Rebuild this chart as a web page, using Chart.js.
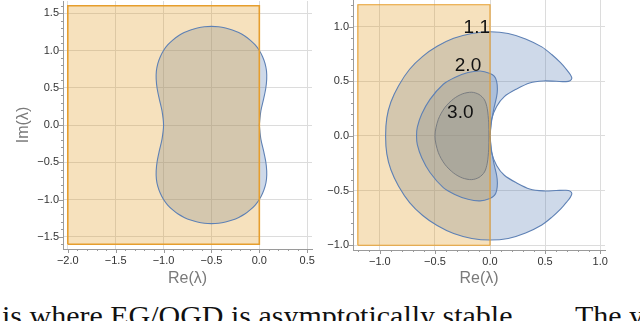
<!DOCTYPE html>
<html>
<head>
<meta charset="utf-8">
<script src="https://cdn.jsdelivr.net/npm/chart.js@4.4.1/dist/chart.umd.min.js"></script>
<style>
  html, body { margin: 0; padding: 0; background: #fff; width: 640px; height: 321px; overflow: hidden; }
  #wrap { position: relative; width: 640px; height: 321px; overflow: hidden; }
  .cv { position: absolute; top: 0; }
  #cap1, #cap2 { position: absolute; top: 303px; font-family: "Liberation Serif", "DejaVu Serif", serif; font-size: 27px; line-height: 27px; color: #111; white-space: nowrap; transform-origin: 0 0; }
</style>
</head>
<body>
<div id="wrap">
  <canvas id="left" class="cv" width="320" height="295" style="left:0px"></canvas>
  <canvas id="right" class="cv" width="320" height="295" style="left:320px"></canvas>
  <div id="cap1">is where EG/OGD is asymptotically stable.</div>
  <div id="cap2">The yellow</div>
</div>
<script>
// ---------------- data ----------------
// Left panel: tick values
const leftXTicks = [-2.0, -1.5, -1.0, -0.5, 0.0, 0.5];
const leftYTicks = [-1.5, -1.0, -0.5, 0.0, 0.5, 1.0, 1.5];
// Left panel: yellow (orange) half-plane region corners [Re, Im]
const leftStableRect = [[-2.0, -1.6], [0.0, -1.6], [0.0, 1.6], [-2.0, 1.6], [-2.0, -1.6]];
// Left panel: blue (EG) region boundary [Re, Im]
const egBoundary = [
  [0.000, 0.000], [0.016, 0.189], [0.045, 0.351], [0.067, 0.490], [0.077, 0.613], [0.075, 0.724],
  [0.060, 0.825], [0.034, 0.917], [0.000, 1.000], [-0.043, 1.074], [-0.096, 1.139], [-0.152, 1.195],
  [-0.215, 1.240], [-0.282, 1.276], [-0.353, 1.302], [-0.426, 1.318], [-0.500, 1.323],
  [-0.574, 1.318], [-0.647, 1.302], [-0.718, 1.276], [-0.785, 1.240], [-0.848, 1.195], [-0.904, 1.139],
  [-0.957, 1.074], [-1.000, 1.000], [-1.034, 0.917], [-1.060, 0.825], [-1.075, 0.724], [-1.077, 0.613],
  [-1.067, 0.490], [-1.045, 0.351], [-1.016, 0.189], [-1.000, 0.000],
  [-1.016, -0.189], [-1.045, -0.351], [-1.067, -0.490], [-1.077, -0.613], [-1.075, -0.724],
  [-1.060, -0.825], [-1.034, -0.917], [-1.000, -1.000], [-0.957, -1.074], [-0.904, -1.139],
  [-0.848, -1.195], [-0.785, -1.240], [-0.718, -1.276], [-0.647, -1.302], [-0.574, -1.318],
  [-0.500, -1.323], [-0.426, -1.318], [-0.353, -1.302], [-0.282, -1.276], [-0.215, -1.240],
  [-0.152, -1.195], [-0.096, -1.139], [-0.043, -1.074], [0.000, -1.000], [0.034, -0.917],
  [0.060, -0.825], [0.075, -0.724], [0.077, -0.613], [0.067, -0.490], [0.045, -0.351],
  [0.016, -0.189], [0.000, 0.000]
];

// Right panel: tick values
const rightXTicks = [-1.0, -0.5, 0.0, 0.5, 1.0];
const rightYTicks = [-1.0, -0.5, 0.0, 0.5, 1.0];
const rightStableRect = [[-1.2, -1.0], [0.0, -1.0], [0.0, 1.2], [-1.2, 1.2], [-1.2, -1.0]];
// Right panel: OGD regions for the three parameter values
const ogd11 = [
  [0.000, 0.000], [0.015, 0.153], [0.060, 0.270], [0.130, 0.360], [0.242, 0.430], [0.360, 0.485],
  [0.485, 0.503], [0.600, 0.500], [0.690, 0.497], [0.727, 0.505], [0.743, 0.527], [0.730, 0.560],
  [0.700, 0.600], [0.640, 0.670], [0.560, 0.745], [0.470, 0.815], [0.323, 0.888], [0.165, 0.938],
  [0.000, 0.953], [-0.165, 0.938], [-0.330, 0.893], [-0.480, 0.820], [-0.611, 0.728], [-0.730, 0.610],
  [-0.830, 0.460], [-0.900, 0.310], [-0.937, 0.165], [-0.948, 0.000],
  [-0.937, -0.165], [-0.900, -0.310], [-0.830, -0.460], [-0.730, -0.610], [-0.611, -0.728],
  [-0.480, -0.820], [-0.330, -0.893], [-0.165, -0.938], [0.000, -0.953], [0.165, -0.938],
  [0.323, -0.888], [0.470, -0.815], [0.560, -0.745], [0.640, -0.670], [0.700, -0.600],
  [0.730, -0.560], [0.743, -0.527], [0.727, -0.505], [0.690, -0.497], [0.600, -0.500],
  [0.485, -0.503], [0.360, -0.485], [0.242, -0.430], [0.130, -0.360], [0.060, -0.270],
  [0.015, -0.153], [0.000, 0.000]
];
const ogd20 = [
  [0.000, 0.000], [0.012, 0.120], [0.035, 0.250], [0.060, 0.360], [0.067, 0.430], [0.060, 0.500],
  [0.040, 0.545], [0.000, 0.572], [-0.090, 0.594], [-0.200, 0.580], [-0.320, 0.535], [-0.424, 0.473],
  [-0.545, 0.335], [-0.620, 0.200], [-0.660, 0.080], [-0.667, 0.000],
  [-0.660, -0.080], [-0.620, -0.200], [-0.545, -0.335], [-0.424, -0.473], [-0.320, -0.535],
  [-0.200, -0.580], [-0.090, -0.594], [0.000, -0.572], [0.040, -0.545], [0.060, -0.500],
  [0.067, -0.430], [0.060, -0.360], [0.035, -0.250], [0.012, -0.120], [0.000, 0.000]
];
const ogd30 = [
  [-0.010, 0.000], [-0.012, 0.120], [-0.025, 0.250], [-0.050, 0.330], [-0.100, 0.380], [-0.167, 0.400],
  [-0.250, 0.385], [-0.330, 0.340], [-0.410, 0.260], [-0.470, 0.150], [-0.500, 0.000],
  [-0.470, -0.150], [-0.410, -0.260], [-0.330, -0.340], [-0.250, -0.385], [-0.167, -0.400],
  [-0.100, -0.380], [-0.050, -0.330], [-0.025, -0.250], [-0.012, -0.120], [-0.010, 0.000]
];
const contourLabels = ['1.1', '2.0', '3.0'];
const contourLabelRe = [-0.12, -0.20, -0.27];
const contourLabelIm = [0.99, 0.64, 0.21];

// ---------------- styling helpers ----------------
const BLUE = 'rgb(94,129,181)';
const BLUE_FILL = 'rgba(94,129,181,0.3)';
const ORANGE = 'rgb(230,158,45)';
const ORANGE_FILL = 'rgba(225,156,36,0.3)';
const GRID = '#dcdcdc';
const AXIS = '#9a9a9a';
const TICKFONT = { family: 'Liberation Sans, Arial, sans-serif', size: 11 };
const TITLEFONT = { family: 'Liberation Sans, Arial, sans-serif', size: 16 };

const fmt = v => (v < 0 ? '\u2212' : '') + Math.abs(v).toFixed(1);
const pts = arr => arr.map(p => ({ x: p[0], y: p[1] }));

function fillSet(arr, color, tension) {
  return { data: pts(arr), showLine: true, fill: 'shape', backgroundColor: color, borderWidth: 0,
           borderColor: 'rgba(0,0,0,0)', pointRadius: 0, tension: tension };
}
function lineSet(arr, color, width, tension) {
  return { data: pts(arr), showLine: true, fill: false, borderColor: color, borderWidth: width,
           pointRadius: 0, tension: tension };
}

// minor/major tick marks on the axes (outward)
const tickMarks = {
  id: 'tickMarks',
  afterDraw(chart) {
    const { ctx, chartArea } = chart;
    const xs = chart.scales.x, ys = chart.scales.y;
    ctx.save();
    ctx.strokeStyle = AXIS;
    ctx.lineWidth = 1;
    const step = 0.1;
    const draw = (scale, horiz) => {
      const lo = Math.ceil(scale.min / step - 1e-6), hi = Math.floor(scale.max / step + 1e-6);
      for (let k = lo; k <= hi; k++) {
        const v = k * step;
        const major = Math.abs(v * 2 - Math.round(v * 2)) < 1e-6;
        const len = major ? 4 : 2;
        const p = Math.round(scale.getPixelForValue(v)) + 0.5;
        ctx.beginPath();
        if (horiz) { ctx.moveTo(p, chartArea.bottom); ctx.lineTo(p, chartArea.bottom + len); }
        else { ctx.moveTo(chartArea.left, p); ctx.lineTo(chartArea.left - len, p); }
        ctx.stroke();
      }
    };
    draw(xs, true); draw(ys, false);
    ctx.restore();
  }
};

const contourText = {
  id: 'contourText',
  afterDatasetsDraw(chart, args, opts) {
    if (!opts || !opts.on) return;
    const { ctx } = chart;
    ctx.save();
    ctx.fillStyle = '#111';
    ctx.font = '19px "Liberation Sans", Arial, sans-serif';
    ctx.textAlign = 'center';
    ctx.textBaseline = 'middle';
    contourLabels.forEach((t, i) => {
      ctx.fillText(t, chart.scales.x.getPixelForValue(contourLabelRe[i]), chart.scales.y.getPixelForValue(contourLabelIm[i]));
    });
    ctx.restore();
  }
};

function makeOptions(c) {
  return {
    responsive: false, animation: false, devicePixelRatio: 1,
    layout: { padding: { left: 0, right: c.padRight, top: c.padTop, bottom: 0 } },
    plugins: { legend: { display: false }, tooltip: { enabled: false }, contourText: { on: c.labels } },
    scales: {
      x: {
        type: 'linear', min: c.xmin, max: c.xmax,
        afterBuildTicks: s => { s.ticks = c.xTicks.map(v => ({ value: v })); },
        afterFit: s => { s.height = c.xH; s.paddingLeft = 0; s.paddingRight = 0; },
        grid: { color: GRID, lineWidth: 1, drawTicks: false },
        border: { color: AXIS, width: 1 },
        ticks: { font: TICKFONT, color: '#333', padding: 5, maxRotation: 0, autoSkip: false, callback: v => fmt(v) },
        title: { display: true, text: 'Re(\u03bb)', font: TITLEFONT, color: '#7a7a7a', padding: { top: 0, bottom: 6.4 } }
      },
      y: {
        type: 'linear', min: c.ymin, max: c.ymax,
        afterBuildTicks: s => { s.ticks = c.yTicks.map(v => ({ value: v })); },
        afterFit: s => { s.width = c.yW; s.paddingTop = 0; s.paddingBottom = 0; },
        grid: { color: GRID, lineWidth: 1, drawTicks: false },
        border: { color: AXIS, width: 1 },
        ticks: { font: TICKFONT, color: '#333', padding: 4, autoSkip: false, callback: v => fmt(v) },
        title: { display: c.ytitle, text: 'Im(\u03bb)', font: TITLEFONT, color: '#7a7a7a', padding: { top: 14.4, bottom: 0 } }
      }
    }
  };
}

new Chart(document.getElementById('left'), {
  type: 'scatter',
  data: { datasets: [
    lineSet(leftStableRect, ORANGE, 1.6, 0),
    lineSet(egBoundary, BLUE, 1.1, 0.3),
    fillSet(leftStableRect, ORANGE_FILL, 0),
    fillSet(egBoundary, BLUE_FILL, 0.3)
  ] },
  options: makeOptions({ xmin: -2.05, xmax: 0.55, ymin: -1.664, ymax: 1.664, xTicks: leftXTicks, yTicks: leftYTicks,
                         padRight: 8, padTop: 1, xH: 46, yW: 63, ytitle: true, labels: false }),
  plugins: [tickMarks, contourText]
});

new Chart(document.getElementById('right'), {
  type: 'scatter',
  data: { datasets: [
    lineSet(rightStableRect, ORANGE, 1.1, 0),
    lineSet(ogd30, 'rgba(115,120,125,0.9)', 1, 0.3),
    lineSet(ogd20, BLUE, 1.1, 0.3),
    lineSet(ogd11, BLUE, 1.1, 0.3),
    fillSet(rightStableRect, ORANGE_FILL, 0),
    fillSet(ogd30, BLUE_FILL, 0.3),
    fillSet(ogd20, BLUE_FILL, 0.3),
    fillSet(ogd11, BLUE_FILL, 0.3)
  ] },
  options: makeOptions({ xmin: -1.244, xmax: 1.044, ymin: -1.044, ymax: 1.244, xTicks: rightXTicks, yTicks: rightYTicks,
                         padRight: 35, padTop: 0, xH: 45, yW: 33, ytitle: false, labels: true }),
  plugins: [tickMarks, contourText]
});

// caption layout: stretch first part to span x=2..520, second part starts at x=575
(function () {
  const c1 = document.getElementById('cap1');
  const c2 = document.getElementById('cap2');
  c1.style.left = '2px';
  const w = c1.getBoundingClientRect().width;
  const k = 518 / w;
  c1.style.transform = 'scaleX(' + k.toFixed(4) + ')';
  c2.style.left = '575px';
  c2.style.transform = 'scaleX(' + k.toFixed(4) + ')';
})();
</script>
</body>
</html>
